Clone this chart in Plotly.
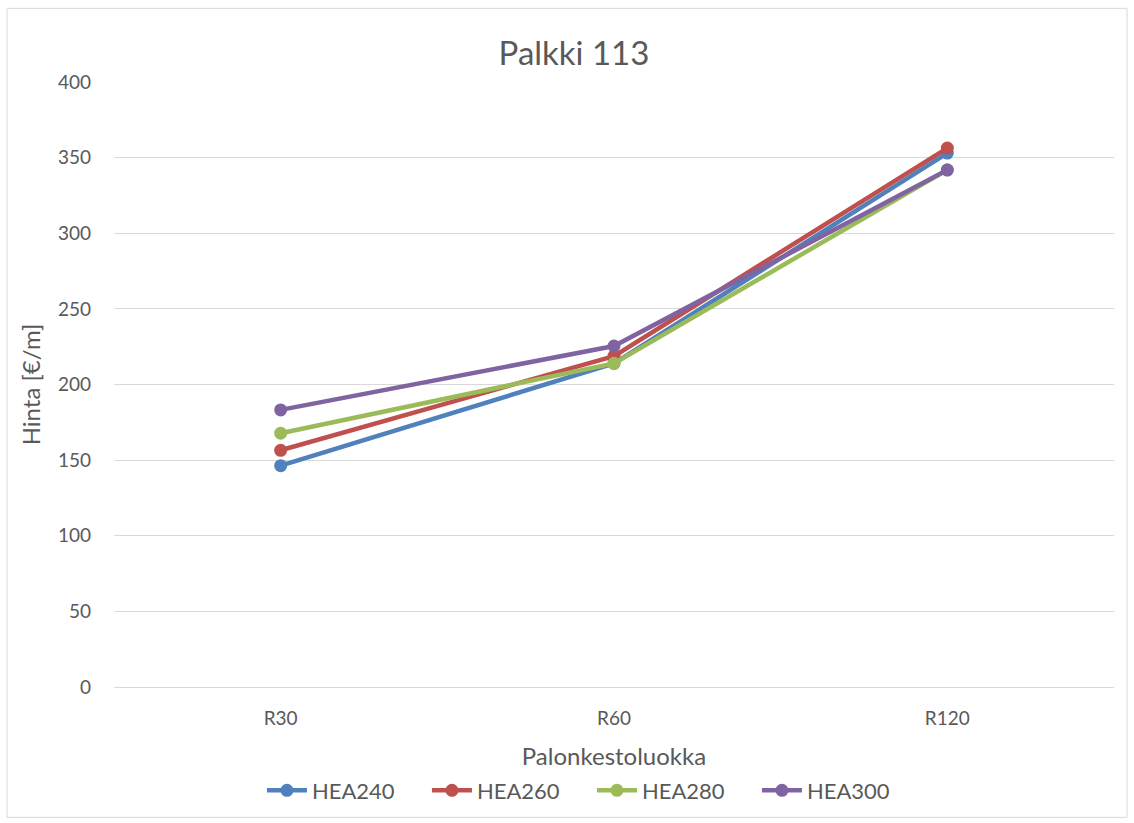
import plotly.graph_objects as go

# Fire resistance classes and beam prices per profile
categories = ["R30", "R60", "R120"]
hea240 = [146.3, 214.0, 353.0]
hea260 = [156.5, 218.8, 356.3]
hea280 = [167.8, 214.0, 342.0]
hea300 = [183.2, 225.4, 341.8]

series = [
    ("HEA240", hea240, "#4F81BD"),
    ("HEA260", hea260, "#C0504D"),
    ("HEA280", hea280, "#9BBB59"),
    ("HEA300", hea300, "#8064A2"),
]

font_family = "Lato, 'Open Sans', sans-serif"
text_color = "#595959"

fig = go.Figure()
for name, values, color in series:
    fig.add_trace(go.Scatter(
        x=categories, y=values, name=name, mode="lines+markers",
        line=dict(color=color, width=4.5),
        marker=dict(color=color, size=13),
    ))

W, H = 1134, 823
ml, mr, mt, mb = 114, 20, 82, 133
pw, ph = W - ml - mr, H - mt - mb

fig.update_layout(
    width=W, height=H,
    margin=dict(l=ml, r=mr, t=mt, b=mb),
    paper_bgcolor="white", plot_bgcolor="white",
    font=dict(family=font_family, color=text_color, size=19),
    title=dict(text="Palkki 113", x=574 / W, xanchor="center", y=1 - 53 / H, yanchor="middle",
               font=dict(size=33, color=text_color, family=font_family)),
    xaxis=dict(
        type="category", range=[-0.5, 2.5], showgrid=False,
        showline=True, linecolor="#D9D9D9", linewidth=1, ticks="",
        tickfont=dict(size=19, color=text_color), ticklabelstandoff=14,
        title=dict(text="Palonkestoluokka", font=dict(size=24, color=text_color), standoff=20),
    ),
    yaxis=dict(
        range=[0, 400], dtick=50, showgrid=True, gridcolor="#D9D9D9", gridwidth=1,
        zeroline=False, showline=False, ticks="", ticklabelstandoff=22,
        tickfont=dict(size=19, color=text_color),
        title=dict(text="Hinta [€/m]", font=dict(size=24, color=text_color), standoff=10),
    ),
    legend=dict(
        orientation="h", x=542 / W, xref="paper", xanchor="center",
        y=-(792 - 688) / ph, yanchor="middle",
        font=dict(size=22, color=text_color), itemwidth=40,
        entrywidth=110, entrywidthmode="pixels",
    ),
    showlegend=True,
)

# Light outer frame around the chart
fig.add_shape(
    type="rect", xref="paper", yref="paper",
    x0=(7 - ml) / pw, x1=(1127 - ml) / pw,
    y0=(H - mb - 821) / ph, y1=(H - mb - 8) / ph,
    line=dict(color="#D9D9D9", width=1), fillcolor="rgba(0,0,0,0)", layer="below",
)

fig.write_html("out.html")
